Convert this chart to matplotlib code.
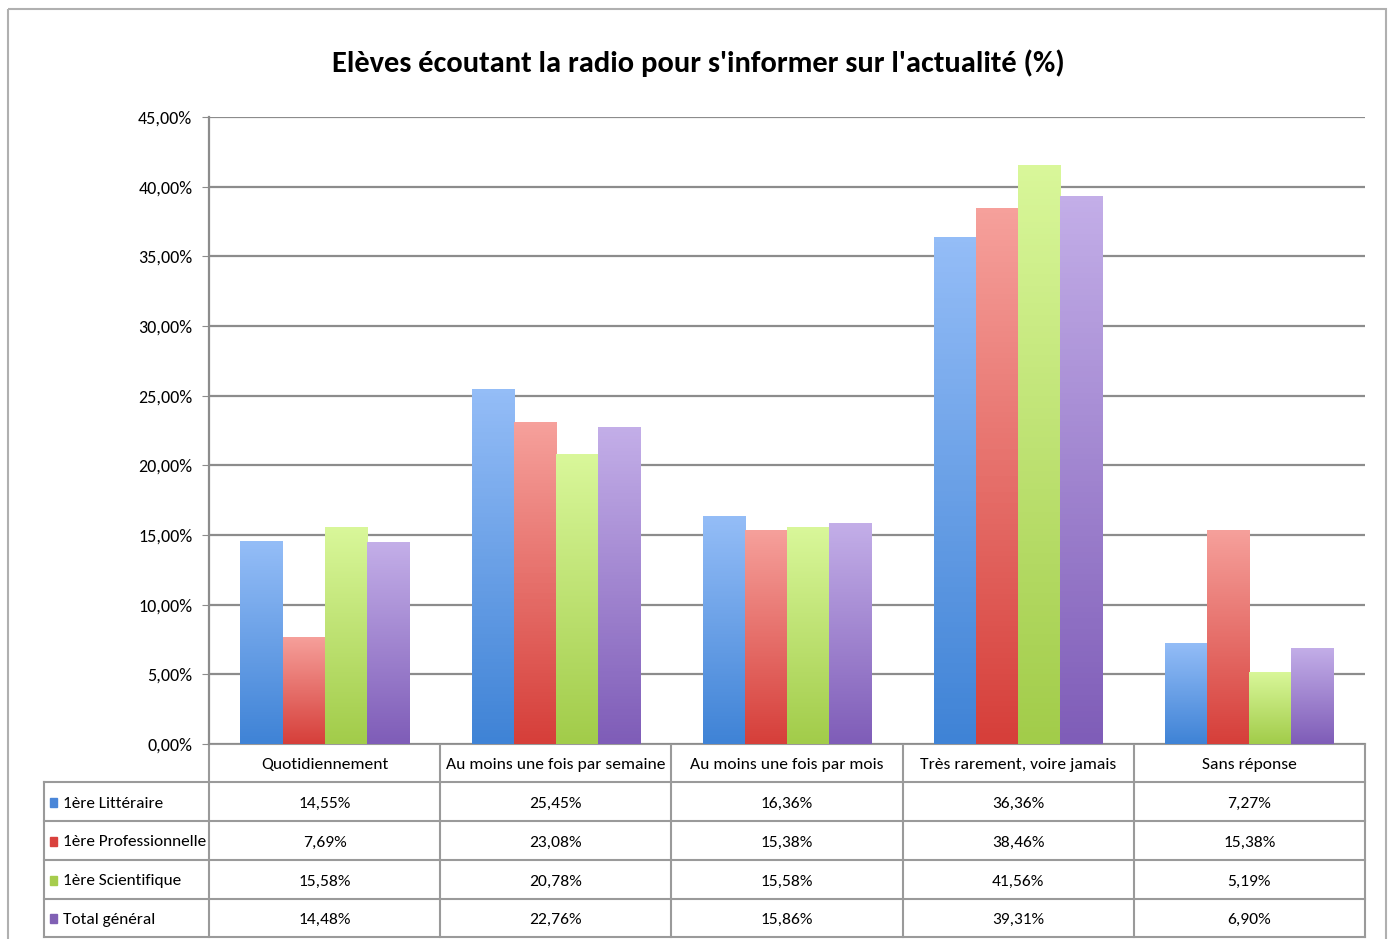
import numpy as np
import matplotlib
matplotlib.use('Agg')
import matplotlib.pyplot as plt
from matplotlib.colors import LinearSegmentedColormap
from matplotlib.patches import Rectangle

plt.rcParams['font.family'] = ['Carlito', 'Archivo Narrow', 'DejaVu Sans']

title = "Elèves écoutant la radio pour s'informer sur l'actualité (%)"
categories = ['Quotidiennement', 'Au moins une fois par semaine', 'Au moins une fois par mois',
              'Très rarement, voire jamais', 'Sans réponse']
series_names = ['1ère Littéraire', '1ère Professionnelle', '1ère Scientifique', 'Total général']
litteraire = [14.55, 25.45, 16.36, 36.36, 7.27]
professionnelle = [7.69, 23.08, 15.38, 38.46, 15.38]
scientifique = [15.58, 20.78, 15.58, 41.56, 5.19]
total = [14.48, 22.76, 15.86, 39.31, 6.90]
series = [litteraire, professionnelle, scientifique, total]

# gradient (top colour, bottom colour) per series
grad = [('#94bdf7', '#3f83d6'), ('#f6a09b', '#d63f3a'),
        ('#d9f79a', '#a2cc4a'), ('#c3aee8', '#7f5db8')]
solid = ['#4a86d8', '#d9413d', '#a6cc4c', '#8060b4']


def fmt(v):
    return ('%.2f%%' % v).replace('.', ',')


W, H = 1391, 939
fig = plt.figure(figsize=(W / 100, H / 100), dpi=100)

# pixel layout
L, R, T, B = 209, 1365, 117, 744
tab_left = 44
row_h = [38, 39, 39, 39, 38]

ov = fig.add_axes([0, 0, 1, 1])
ov.set_xlim(0, W)
ov.set_ylim(H, 0)
ov.axis('off')
ov.add_patch(Rectangle((8, 9), 1378, 940, fill=False, edgecolor='#b0b0b0', lw=1.5))

ax = fig.add_axes([L / W, (H - B) / H, (R - L) / W, (B - T) / H])
ax.set_yticks(np.arange(0, 46, 5))
ax.set_yticklabels([fmt(v) for v in np.arange(0, 46, 5)], fontsize=13)
ax.set_xticks([])
ax.yaxis.grid(True, color='#8c8c8c', lw=1.6)
ax.set_axisbelow(True)
for s in ['top', 'right', 'bottom']:
    ax.spines[s].set_visible(False)
ax.spines['left'].set_color('#8c8c8c')
ax.spines['left'].set_linewidth(1.6)
ax.tick_params(axis='y', length=5, color='#8c8c8c', pad=7)

x = np.arange(len(categories))
bw = 0.182
for i, vals in enumerate(series):
    offs = (i - 1.5) * bw
    cmap = LinearSegmentedColormap.from_list('g%d' % i, [grad[i][1], grad[i][0]])
    bars = ax.bar(x + offs, vals, bw, color='none', zorder=2)
    for b in bars:
        x0, w, h = b.get_x(), b.get_width(), b.get_height()
        im = ax.imshow(np.linspace(0, 1, 100).reshape(-1, 1), cmap=cmap, origin='lower',
                       extent=[x0, x0 + w, 0, h], aspect='auto', zorder=2)
        im.set_clip_path(b)
ax.set_xlim(-0.5, len(categories) - 0.5)
ax.set_ylim(0, 45)

fig.text(698 / W, 1 - 63 / H, title, fontsize=22, fontweight='bold', ha='center', va='center')

# data table
col_w = (R - L) / len(categories)
ys = [B]
for h in row_h:
    ys.append(ys[-1] + h)
lc = '#9a9a9a'
ov.plot([L, R], [ys[0], ys[0]], color=lc, lw=1.5)
for y in ys[1:]:
    ov.plot([tab_left, R], [y, y], color=lc, lw=1.5)
ov.plot([tab_left, tab_left], [ys[1], ys[-1]], color=lc, lw=1.5)
for j in range(len(categories) + 1):
    xx = L + j * col_w
    ov.plot([xx, xx], [ys[0], ys[-1]], color=lc, lw=1.5)

for j, c in enumerate(categories):
    ov.text(L + (j + 0.5) * col_w, (ys[0] + ys[1]) / 2 + 2, c, ha='center', va='center', fontsize=12.6)
for i, name in enumerate(series_names):
    yc = (ys[i + 1] + ys[i + 2]) / 2 + 2
    ov.add_patch(Rectangle((50, yc - 6), 7, 9, color=solid[i]))
    ov.text(63, yc, name, ha='left', va='center', fontsize=12.4)
    for j, v in enumerate(series[i]):
        ov.text(L + (j + 0.5) * col_w, yc, fmt(v), ha='center', va='center', fontsize=12.6)

fig.savefig('out.png', dpi=100)
